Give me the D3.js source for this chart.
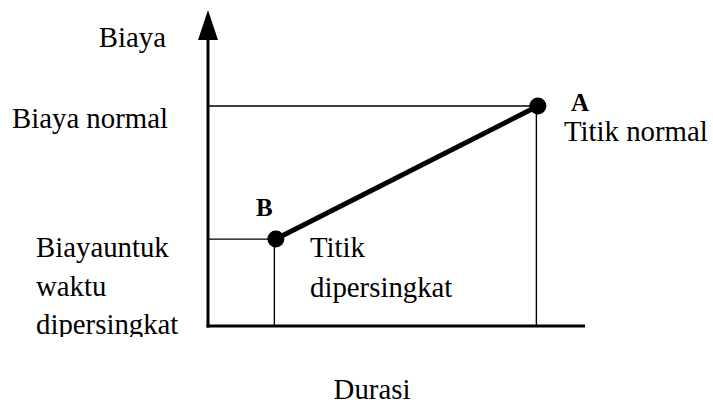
<!DOCTYPE html>
<html>
<head>
<meta charset="utf-8">
<script src="https://cdnjs.cloudflare.com/ajax/libs/d3/7.8.5/d3.min.js"></script>
<style>
  body { margin: 0; background: #fff; }
  text { font-family: "Liberation Serif", "Times New Roman", serif; fill: #000; }
</style>
</head>
<body>
<div id="chart"></div>
<script>
// points on the time-cost curve (duration, cost) on a 0..100 scale
var pointNames = ["B", "A"];
var durations = [18, 87.5];
var costs = [27.5, 69.6];
var pointNotes = [["Titik", "dipersingkat"], ["Titik normal"]];
var costLabels = [["Biaya"], ["Biaya normal"], ["Biayauntuk", "waktu", "dipersingkat"]];
var xTitle = "Durasi";

var w = 713, h = 405;
var fs = 28.8;

var svg = d3.select("#chart")
  .append("svg")
  .attr("width", w)
  .attr("height", h);

var x = d3.scaleLinear().domain([0, 100]).range([208, 585]);
var y = d3.scaleLinear().domain([0, 100]).range([326, 10]);

var pts = durations.map(function(d, i) {
  return { name: pointNames[i], dur: d, cost: costs[i], note: pointNotes[i] };
});

// clip for the cut-off left label at the bottom
svg.append("clipPath")
  .attr("id", "leftclip")
  .append("rect")
  .attr("x", 0).attr("y", 0)
  .attr("width", 205).attr("height", 337);

// guide lines from each point to the axes
var guides = svg.append("g").attr("class", "guides");
pts.forEach(function(p) {
  guides.append("line")
    .attr("x1", x(0)).attr("x2", x(p.dur))
    .attr("y1", y(p.cost)).attr("y2", y(p.cost))
    .attr("stroke", "#000").attr("stroke-width", 1.4);
  guides.append("line")
    .attr("x1", x(p.dur) - 1.5).attr("x2", x(p.dur) - 1.5)
    .attr("y1", y(p.cost)).attr("y2", y(0))
    .attr("stroke", "#000").attr("stroke-width", 1.4);
});

// axes
svg.append("line")
  .attr("x1", x(0)).attr("x2", x(0))
  .attr("y1", y(0) + 1.5).attr("y2", y(90.5))
  .attr("stroke", "#000").attr("stroke-width", 3);
svg.append("path")
  .attr("d", "M" + (x(0) - 10) + "," + y(90.5) + "L" + x(0) + "," + y(100) + "L" + (x(0) + 10) + "," + y(90.5) + "Z")
  .attr("fill", "#000");
svg.append("line")
  .attr("x1", x(0) - 1.5).attr("x2", x(100))
  .attr("y1", y(0)).attr("y2", y(0))
  .attr("stroke", "#000").attr("stroke-width", 3);

// the crash line between B and A
var line = d3.line()
  .x(function(d) { return x(d.dur); })
  .y(function(d) { return y(d.cost); });

svg.append("path")
  .datum(pts)
  .attr("d", line)
  .attr("fill", "none")
  .attr("stroke", "#000")
  .attr("stroke-width", 5);

svg.selectAll("circle.pt")
  .data(pts)
  .enter()
  .append("circle")
  .attr("class", "pt")
  .attr("cx", function(d) { return x(d.dur); })
  .attr("cy", function(d) { return y(d.cost); })
  .attr("r", 8.5)
  .attr("fill", "#000");

// point letters
svg.append("text")
  .attr("x", 256).attr("y", 216)
  .attr("font-size", 25).attr("font-weight", "bold")
  .text(pts[0].name);
svg.append("text")
  .attr("x", 571).attr("y", 111)
  .attr("font-size", 25).attr("font-weight", "bold")
  .text(pts[1].name);

// point notes
pts[0].note.forEach(function(t, i) {
  svg.append("text")
    .attr("x", 310).attr("y", 257 + i * 40)
    .attr("font-size", fs)
    .text(t);
});
svg.append("text")
  .attr("x", 564).attr("y", 141)
  .attr("font-size", fs)
  .text(pts[1].note[0]);

// cost labels on the left
svg.append("text")
  .attr("x", 166).attr("y", 47)
  .attr("font-size", fs)
  .attr("text-anchor", "end")
  .text(costLabels[0][0]);
svg.append("text")
  .attr("x", 12).attr("y", 128)
  .attr("font-size", fs)
  .text(costLabels[1][0]);
var lowLabel = svg.append("g").attr("clip-path", "url(#leftclip)");
costLabels[2].forEach(function(t, i) {
  lowLabel.append("text")
    .attr("x", 36).attr("y", 257 + i * 38.5)
    .attr("font-size", fs)
    .text(t);
});

// x title
svg.append("text")
  .attr("x", 372).attr("y", 399)
  .attr("font-size", fs)
  .attr("text-anchor", "middle")
  .text(xTitle);
</script>
</body>
</html>
